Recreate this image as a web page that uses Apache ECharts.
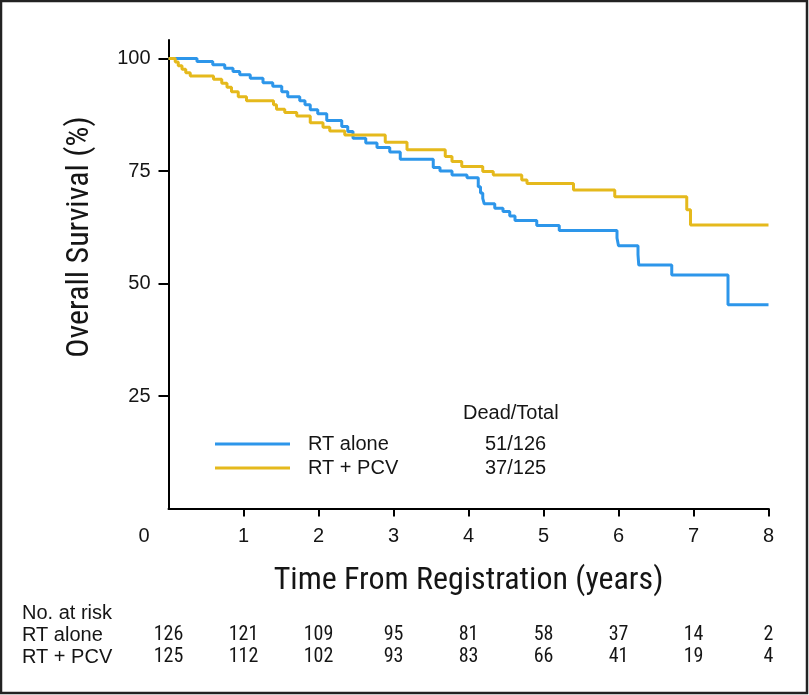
<!DOCTYPE html>
<html>
<head>
<meta charset="utf-8">
<script src="https://cdn.jsdelivr.net/npm/echarts@6/dist/echarts.min.js"></script>
<style>html,body{margin:0;padding:0;background:#fff;}</style>
</head>
<body>
<div id="main" style="width:809px;height:695px;"></div>
<script>
// survival curves: [years, % alive]
var rtAlone = [
    [0, 100], [0.38, 99.3], [0.59, 98.6], [0.75, 97.8], [0.86, 97.1], [0.95, 96.4],
    [1.09, 95.6], [1.26, 94.6], [1.39, 93.8], [1.51, 92.6], [1.59, 91.5], [1.75, 90.6],
    [1.82, 89.7], [1.89, 88.6], [1.99, 87.7], [2.11, 86.2], [2.31, 84.9], [2.39, 83.8],
    [2.46, 82.3], [2.63, 81.2], [2.78, 80.2], [2.95, 79.2], [3.09, 77.6], [3.53, 75.8],
    [3.62, 75.0], [3.78, 74.1], [3.98, 73.5], [4.13, 71.5], [4.16, 70.1], [4.19, 68.9],
    [4.21, 67.7], [4.35, 66.7], [4.46, 66.0], [4.55, 65.0], [4.62, 64.0], [4.91, 62.9],
    [5.21, 61.8], [5.98, 60.1], [6.00, 58.4], [6.26, 56.4], [6.27, 54.1], [6.71, 51.9],
    [7.46, 45.3], [8.0, 45.3]
];
var rtPcv = [
    [0, 100], [0.09, 99.2], [0.13, 98.4], [0.18, 97.6], [0.23, 96.8], [0.29, 96.1],
    [0.60, 95.4], [0.71, 94.5], [0.78, 93.6], [0.84, 92.6], [0.93, 91.5], [1.04, 90.6],
    [1.40, 89.7], [1.44, 88.7], [1.55, 88.0], [1.71, 87.2], [1.89, 85.7], [2.06, 84.7],
    [2.15, 83.9], [2.35, 83.0], [2.89, 81.4], [3.18, 79.7], [3.69, 78.2], [3.78, 77.1],
    [3.91, 76.0], [4.19, 74.9], [4.33, 74.1], [4.71, 73.0], [4.78, 72.2], [5.40, 70.8],
    [5.95, 69.3], [6.91, 66.4], [6.96, 63.0], [8.0, 63.0]
];

var groups = ['RT alone', 'RT + PCV'];
var deadTotal = ['51/126', '37/125'];
var years = [0, 1, 2, 3, 4, 5, 6, 7, 8];
var yTicks = [25, 50, 75, 100];
var riskAlone = [126, 121, 109, 95, 81, 58, 37, 14, 2];
var riskPcv = [125, 112, 102, 93, 83, 66, 41, 19, 4];

var plainFont = "'Liberation Sans', Arial, sans-serif";
var narrowFont = "'Liberation Sans Narrow', 'Roboto Condensed', Roboto, sans-serif";
var ink = '#151515';

function riskAxis(counts, margin) {
    return {
        type: 'value', min: 0, max: 8, interval: 1, position: 'bottom',
        axisLine: { show: false }, axisTick: { show: false }, splitLine: { show: false },
        axisLabel: {
            margin: margin, showMinLabel: true, showMaxLabel: true,
            fontSize: 20, lineHeight: 20, color: ink, fontFamily: narrowFont,
            formatter: function (v) { return String(counts[years.indexOf(v)]); }
        }
    };
}

var myChart = echarts.init(document.getElementById('main'));
myChart.setOption({
    animation: false,
    backgroundColor: '#fff',
    grid: { left: 168.5, right: 40.5, top: 40, bottom: 186.4 },
    xAxis: [{
        type: 'value', min: 0, max: 8, interval: 1,
        axisLine: { onZero: false, lineStyle: { color: '#000', width: 2 } },
        axisTick: { customValues: years.slice(1), length: 8, lineStyle: { color: '#000', width: 2 } },
        splitLine: { show: false },
        axisLabel: {
            margin: 18, fontSize: 20, lineHeight: 20, color: ink, fontFamily: plainFont,
            showMinLabel: true, showMaxLabel: true,
            formatter: function (v) { return v === 0 ? '{z|0}' : String(v); },
            rich: { z: { fontSize: 20, fontFamily: plainFont, color: ink, padding: [0, 49, 0, 0] } }
        },
        name: 'Time From Registration (years)', nameLocation: 'middle', nameGap: 56,
        nameTextStyle: { fontSize: 32, color: ink, fontFamily: narrowFont }
    }, riskAxis(riskAlone, 116), riskAxis(riskPcv, 138)],
    yAxis: {
        type: 'value', min: 0, max: 104.1, interval: 25,
        axisLine: { show: true, onZero: false, lineStyle: { color: '#000', width: 2 } },
        axisTick: { customValues: yTicks, length: 10, lineStyle: { color: '#000', width: 2 } },
        splitLine: { show: false },
        axisLabel: { customValues: yTicks, margin: 18, fontSize: 20, color: ink, fontFamily: plainFont }
    },
    legend: {
        orient: 'vertical', left: 210, top: 429, itemWidth: 75, itemHeight: 3, itemGap: 4,
        icon: 'rect', data: groups,
        formatter: function (name) {
            return '{a|' + name + '}{b|' + deadTotal[groups.indexOf(name)] + '}';
        },
        textStyle: {
            fontSize: 20, lineHeight: 20, color: ink, fontFamily: plainFont,
            rich: {
                a: { width: 177, padding: [0, 0, 0, 13], fontSize: 20, fontFamily: plainFont, color: ink },
                b: { fontSize: 20, fontFamily: plainFont, color: ink }
            }
        }
    },
    graphic: [
        { type: 'rect', shape: { x: 1, y: 1, width: 806, height: 692 }, style: { fill: 'none', stroke: '#222', lineWidth: 2.5 } },
        { type: 'text', x: 80, y: 237, rotation: Math.PI / 2,
          style: { text: 'Overall Survival (%)', fontSize: 32, fontFamily: narrowFont, fill: ink, align: 'center', verticalAlign: 'middle' } },
        { type: 'text', x: 463, y: 413, style: { text: 'Dead/Total', fontSize: 20, fontFamily: plainFont, fill: ink, verticalAlign: 'middle' } },
        { type: 'text', x: 22, y: 613, style: { text: 'No. at risk', fontSize: 20, fontFamily: plainFont, fill: ink, verticalAlign: 'middle' } },
        { type: 'text', x: 22, y: 635, style: { text: groups[0], fontSize: 20, fontFamily: plainFont, fill: ink, verticalAlign: 'middle' } },
        { type: 'text', x: 22, y: 657, style: { text: groups[1], fontSize: 20, fontFamily: plainFont, fill: ink, verticalAlign: 'middle' } }
    ],
    series: [{
        name: groups[0], type: 'line', step: 'end', data: rtAlone, showSymbol: false,
        color: '#2d96ea', lineStyle: { width: 3, color: '#2d96ea' }
    }, {
        name: groups[1], type: 'line', step: 'end', data: rtPcv, showSymbol: false,
        color: '#e5b91c', lineStyle: { width: 3, color: '#e5b91c' }
    }]
});
</script>
</body>
</html>
